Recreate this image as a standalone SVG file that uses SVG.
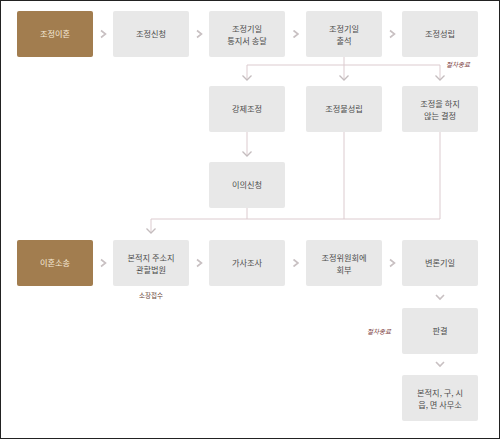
<svg xmlns="http://www.w3.org/2000/svg" width="500" height="439" viewBox="0 0 500 439">
<defs>
<style>
.box{fill:#e8e8e8}
.main{fill:#a27d4f}
.t{font-family:"Noto Sans CJK KR","Noto Sans",sans-serif;font-size:8.2px;fill:#4d4d4d;text-anchor:middle}
.tm{font-family:"Noto Sans CJK KR","Noto Sans",sans-serif;font-size:8.2px;fill:#f6ead8;text-anchor:middle}
.note{font-family:"Noto Sans CJK KR","Noto Sans",sans-serif;font-size:6.5px;fill:#7a3b3b;font-style:italic}
.lbl{font-family:"Noto Sans CJK KR","Noto Sans",sans-serif;font-size:6.5px;fill:#6b4a3a;text-anchor:middle}
.ln{fill:none;stroke:#dccbcf;stroke-width:1}
.ah{fill:none;stroke:#c4bcbe;stroke-width:1.3}
.ch{fill:none;stroke:#c8c0c2;stroke-width:1.6}
</style>
</defs>
<rect x="0" y="0" width="500" height="439" fill="#fff"/>
<rect x="0.5" y="0.5" width="499" height="438" fill="none" stroke="#222" stroke-width="1"/>

<g id="connectors">
<path class="ln" d="M247,65 H440 M247,65 V80 M344,57 V80 M440,65 V80"/>
<path class="ah" d="M242.5,75.5 L247,80 L251.5,75.5 M339.5,75.5 L344,80 L348.5,75.5 M435.5,75.5 L440,80 L444.5,75.5"/>
<path class="ln" d="M247,132 V156"/>
<path class="ah" d="M242.5,151.5 L247,156 L251.5,151.5"/>
<path class="ln" d="M344,132 V219 M440,132 V219 M247,208 V219 M151,219 H440 M151,219 V233"/>
<path class="ah" d="M146.5,228.5 L151,233 L155.5,228.5"/>
<path class="ch" d="M101,30.5 L105.5,34 L101,37.5 M197,30.5 L201.5,34 L197,37.5 M293.5,30.5 L298,34 L293.5,37.5 M390,30.5 L394.5,34 L390,37.5"/>
<path class="ch" d="M101,259.5 L105.5,263 L101,266.5 M197,259.5 L201.5,263 L197,266.5 M293.5,259.5 L298,263 L293.5,266.5 M390,259.5 L394.5,263 L390,266.5"/>
<path class="ch" d="M436,295 L440,299 L444,295 M436,362 L440,366 L444,362"/>
</g>

<g id="n-jojeongihon"><rect class="main" x="17" y="11" width="76" height="46" rx="2"/><text class="tm" x="55" y="37">조정이혼</text></g>
<g id="n-jojeongsincheong"><rect class="box" x="113" y="11" width="76" height="46" rx="2"/><text class="t" x="151" y="37">조정신청</text></g>
<g id="n-tongji"><rect class="box" x="209" y="11" width="76" height="46" rx="2"/><text class="t" x="247" y="32">조정기일</text><text class="t" x="247" y="43.5">통지서 송달</text></g>
<g id="n-chulseok"><rect class="box" x="306" y="11" width="76" height="46" rx="2"/><text class="t" x="344" y="32">조정기일</text><text class="t" x="344" y="43.5">출석</text></g>
<g id="n-seongnip"><rect class="box" x="402" y="11" width="76" height="46" rx="2"/><text class="t" x="440" y="37">조정성립</text></g>

<text class="note" x="446" y="67">절차종료</text>

<g id="n-gangje"><rect class="box" x="209" y="86" width="76" height="46" rx="2"/><text class="t" x="247" y="112">강제조정</text></g>
<g id="n-bulseongnip"><rect class="box" x="306" y="86" width="76" height="46" rx="2"/><text class="t" x="344" y="112">조정불성립</text></g>
<g id="n-anhneun"><rect class="box" x="402" y="86" width="76" height="46" rx="2"/><text class="t" x="440" y="107">조정을 하지</text><text class="t" x="440" y="118.5">않는 결정</text></g>

<g id="n-iui"><rect class="box" x="209" y="162" width="76" height="46" rx="2"/><text class="t" x="247" y="188">이의신청</text></g>

<g id="n-ihonsosong"><rect class="main" x="17" y="240" width="76" height="46" rx="2"/><text class="tm" x="55" y="266">이혼소송</text></g>
<g id="n-beobwon"><rect class="box" x="113" y="240" width="76" height="46" rx="2"/><text class="t" x="151" y="261">본적지 주소지</text><text class="t" x="151" y="272.5">관할법원</text></g>
<g id="n-gasa"><rect class="box" x="209" y="240" width="76" height="46" rx="2"/><text class="t" x="247" y="266">가사조사</text></g>
<g id="n-wiwonhoe"><rect class="box" x="306" y="240" width="76" height="46" rx="2"/><text class="t" x="344" y="261">조정위원회에</text><text class="t" x="344" y="272.5">회부</text></g>
<g id="n-byeollon"><rect class="box" x="402" y="240" width="76" height="46" rx="2"/><text class="t" x="440" y="266">변론기일</text></g>

<text class="lbl" x="151" y="298">소장접수</text>

<g id="n-pangyeol"><rect class="box" x="402" y="308" width="76" height="46" rx="2"/><text class="t" x="440" y="334">판결</text></g>
<text class="note" x="367" y="334">절차종료</text>
<g id="n-samuso"><rect class="box" x="402" y="375" width="76" height="46" rx="2"/><text class="t" x="440" y="396">본적지, 구, 시</text><text class="t" x="440" y="407.5">읍, 면 사무소</text></g>
</svg>
